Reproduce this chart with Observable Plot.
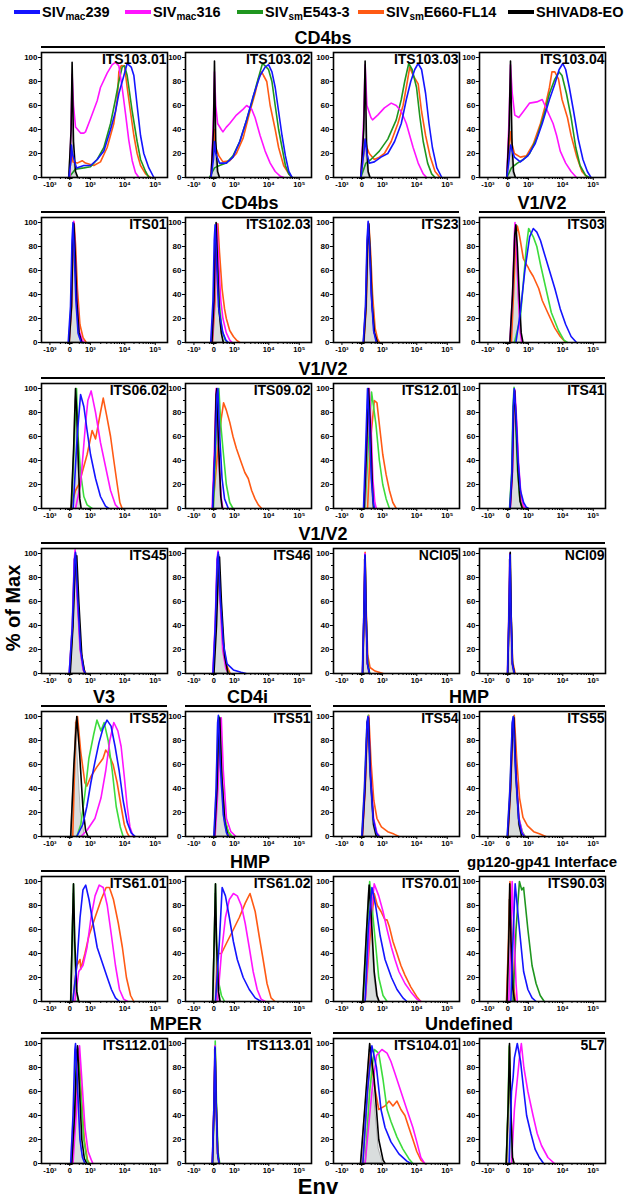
<!DOCTYPE html>
<html><head><meta charset="utf-8">
<script src="https://cdn.jsdelivr.net/npm/d3@7"></script>
<script src="https://cdn.jsdelivr.net/npm/@observablehq/plot@0.6"></script>
<style>
body{margin:0;background:#fff;font-family:"Liberation Sans",Arial,sans-serif;color:#000}
#root{position:relative;width:632px;height:1199px;overflow:hidden}
.abs{position:absolute}
.leg{position:absolute;top:3px;font-weight:bold;font-size:14.5px;white-space:nowrap;line-height:18px}
.leg sub{font-size:10px;vertical-align:-3px;line-height:0}
.sw{position:absolute;top:10px;width:26px;height:4px}
.hdr{position:absolute;font-weight:bold;font-size:18px;white-space:nowrap;transform:translate(-50%,-50%);line-height:18px}
.rule{position:absolute;height:2px;background:#000}
</style></head>
<body><div id="root"></div>
<script>
// ---------- series / legend ----------
const seriesKeys   = ["mac239","mac316","e543","e660","ad8"];
const seriesColors = ["#1414ff","#ff14ff","#23a023","#ff5a14","#000000"];
const legendMain = ["SIV","SIV","SIV","SIV","SHIVAD8-EO"];
const legendSub  = ["mac","mac","sm","sm",""];
const legendTail = ["239","316","E543-3","E660-FL14",""];
const drawOrder = ["e660","e543","mac316","ad8","mac239"];
// the E543-3 trace is printed dark green in some panels and lime green in others
const greenDark = "#1f961f", greenLime = "#3cdc3c";
const darkGreenPanels = ["ITS103.01","ITS103.02","ITS103.03","ITS103.04","ITS90.03"];

// ---------- axes (x in display channels 0..1000 of a logicle axis) ----------
const xTickPos    = [67, 224, 388, 661, 903];
const xTickLabels = ["-10³","0","10³","10⁴","10⁵"];
const xMinorTicks = [150,190,205,210,215,220,228,232,238,243,300,330,350,362,372,380,470,518,552,579,600,619,635,648,734,776,807,830,849,866,879,892];
const yTicks = [0,20,40,60,80,100];
const yMinorTicks = [10,30,50,70,90];

// ---------- panels ----------
const panelTitles = ["ITS103.01","ITS103.02","ITS103.03","ITS103.04",
  "ITS01","ITS102.03","ITS23","ITS03",
  "ITS06.02","ITS09.02","ITS12.01","ITS41",
  "ITS45","ITS46","NCI05","NCI09",
  "ITS52","ITS51","ITS54","ITS55",
  "ITS61.01","ITS61.02","ITS70.01","ITS90.03",
  "ITS112.01","ITS113.01","ITS104.01","5L7"];

const groupRows = [
  [["CD4bs",0,3]],
  [["CD4bs",0,2],["V1/V2",3,3]],
  [["V1/V2",0,3]],
  [["V1/V2",0,3]],
  [["V3",0,0],["CD4i",1,1],["HMP",2,3]],
  [["HMP",0,2],["gp120-gp41 Interface",3,3]],
  [["MPER",0,1],["Undefined",2,3]]
];

// each curve: flat [x, %max, x, %max, ...]
const ITS103_01 = {
  mock:[217,0,235,30,243,70,254,20,270,3,288,0],
  ad8:[217,0,235,40,243,96,254,30,270,5,288,0],
  mac316:[225,0,238,60,243,86,254,60,270,42,310,37,336,37,349,38,389,49,442,64,468,75,521,87,561,94,587,96,614,93,640,75,667,53,693,31,720,14,746,4,773,0],
  e660:[217,0,235,15,240,20,250,13,283,12,323,14,349,12,415,10,468,13,521,25,574,45,601,65,614,88,632,93,659,93,680,75,706,55,733,35,759,20,786,10,826,3,865,0],
  e543:[217,0,270,7,336,8,389,9,442,15,495,25,548,45,587,65,614,80,640,92,659,93,680,85,720,55,759,30,786,15,826,5,852,0],
  mac239:[217,0,235,15,238,27,245,20,278,8,336,10,389,10,442,15,495,22,548,40,587,55,614,70,654,85,680,95,712,92,733,85,759,60,786,35,812,20,852,8,892,0]
};
const ITS103_02 = {
  mock:[203,0,222,30,230,70,240,20,255,3,270,0],
  ad8:[203,0,222,40,230,97,240,30,255,5,270,0],
  mac316:[203,0,222,50,230,88,240,60,255,45,284,40,297,38,324,42,351,45,404,52,458,57,485,60,525,57,552,50,592,35,632,22,672,12,712,5,753,1,779,0],
  e660:[203,0,222,25,230,40,240,25,265,18,297,13,351,14,404,20,458,33,511,55,552,70,578,82,605,88,619,85,645,80,672,60,712,40,739,25,779,10,820,3,846,0],
  e543:[190,0,230,8,270,10,324,12,377,18,431,30,485,48,525,62,565,78,592,88,611,95,632,93,659,90,686,80,712,60,739,40,766,25,793,10,820,3,846,0],
  mac239:[203,0,222,15,230,30,240,20,270,12,324,12,377,17,431,30,485,48,538,68,592,85,632,92,659,94,686,88,712,75,739,55,766,35,793,18,820,5,846,0]
};
const ITS103_03 = {
  mock:[217,0,240,30,251,70,262,20,275,3,290,0],
  ad8:[217,0,240,40,251,97,262,30,275,5,290,0],
  mac316:[217,0,240,50,251,94,265,60,297,50,310,48,351,52,404,58,458,62,498,60,538,55,578,45,605,35,632,25,672,12,712,3,739,0],
  e660:[217,0,240,20,251,32,265,25,284,20,324,15,364,17,404,20,458,30,511,45,552,60,586,80,605,92,632,85,672,78,699,55,731,35,766,18,806,5,846,0],
  e543:[217,0,257,12,297,15,364,22,431,32,498,48,538,65,565,80,597,95,624,90,659,75,686,50,712,30,747,12,779,3,806,0],
  mac239:[217,0,240,20,251,32,265,20,284,12,324,13,377,17,431,20,485,30,538,45,578,65,613,80,645,90,672,95,699,90,731,70,758,45,785,25,820,8,860,0]
};
const ITS103_04 = {
  mock:[217,0,235,30,246,70,258,20,270,3,285,0],
  ad8:[217,0,235,40,246,97,258,30,270,5,285,0],
  mac316:[217,0,235,50,246,94,260,70,280,52,312,50,348,55,398,62,455,63,498,65,541,55,584,45,612,35,641,22,684,12,727,5,770,0],
  e660:[217,0,235,25,246,38,258,28,277,20,324,17,372,18,427,28,484,45,527,62,555,75,575,88,598,88,627,82,655,65,698,50,727,35,770,18,813,5,856,0],
  e543:[217,0,253,8,301,12,348,15,398,20,455,33,512,52,555,70,598,82,632,88,655,85,690,70,727,50,764,25,798,10,841,2,870,0],
  mac239:[217,0,235,15,246,27,260,22,277,17,324,13,384,18,441,28,498,45,555,65,598,78,632,90,661,95,684,90,713,75,747,55,784,32,821,15,856,5,885,0]
};
const ITS01 = {
  mock:[217,0,235,25,246,75,256,95,266,70,280,30,296,5,320,0],
  ad8:[220,0,238,30,248,80,257,99,267,75,280,35,298,8,320,0],
  mac239:[212,0,230,30,242,85,250,100,260,75,273,35,290,8,315,0],
  mac316:[218,0,236,30,247,80,256,101,266,80,280,40,298,10,323,2,340,0],
  e543:[216,0,234,30,245,80,254,98,264,78,278,38,296,9,320,1,335,0],
  e660:[220,0,240,30,250,80,259,100,270,82,285,45,305,15,330,4,355,0]
};
const ITS102_03 = {
  mock:[205,0,222,30,235,80,243,97,255,65,270,25,290,5,310,0],
  mac239:[200,0,218,35,228,85,235,98,248,65,262,30,276,20,297,8,320,2,340,0],
  ad8:[210,0,226,35,236,85,243,100,254,65,268,25,284,8,300,0],
  mac316:[212,0,230,35,242,88,249,99,262,70,280,35,297,20,324,8,351,2,370,0],
  e543:[210,0,228,35,238,85,246,98,258,65,272,30,290,10,315,2,335,0],
  e660:[215,0,235,35,248,88,257,99,270,75,290,45,310,28,324,20,351,10,380,5,404,2,430,0]
};
const ITS23 = {
  mock:[238,0,255,30,268,80,278,98,290,75,305,35,325,8,350,0],
  ad8:[240,0,258,30,270,80,280,99,292,72,306,32,325,8,350,0],
  mac239:[236,0,254,30,266,85,275,101,286,80,300,40,318,10,340,0],
  mac316:[238,0,256,30,268,82,277,100,289,76,303,36,322,9,345,0],
  e543:[238,0,256,30,268,82,278,99,290,75,304,36,323,9,345,0],
  e660:[242,0,260,30,272,80,282,97,295,75,310,40,330,12,350,3,365,0]
};
const ITS03 = {
  mock:[245,0,265,35,280,85,289,95,300,65,315,25,331,5,345,0],
  ad8:[241,0,262,40,280,90,289,98,300,80,315,40,331,8,345,0],
  mac316:[241,0,262,40,277,90,282,100,292,80,310,35,324,8,336,0],
  e660:[253,0,270,40,290,90,301,97,312,92,324,85,348,70,372,65,384,63,398,60,427,55,470,45,498,35,541,25,598,12,641,5,684,0],
  e543:[277,0,300,10,324,20,348,50,372,80,390,95,427,88,455,80,484,65,527,45,570,25,627,10,670,2,698,0],
  mac239:[289,0,324,25,360,60,398,88,427,95,455,92,484,85,512,75,555,60,598,45,641,28,684,15,727,5,770,0]
};
const ITS06_02 = {
  mock:[235,0,255,40,268,90,275,95,290,50,304,8,315,0],
  ad8:[235,0,255,50,270,100,280,80,292,40,304,8,315,0],
  e543:[238,0,258,50,278,100,290,60,310,30,336,10,362,3,402,0],
  mac239:[251,0,283,60,310,95,336,85,362,65,389,45,429,25,468,10,508,2,534,0],
  mac316:[270,0,310,20,349,70,368,90,394,98,429,80,468,55,508,35,548,15,587,3,614,0],
  e660:[230,0,270,15,296,20,323,30,362,45,402,65,429,58,468,80,490,92,516,78,548,60,574,40,601,20,622,5,640,0]
};
const ITS09_02 = {
  mock:[217,0,232,40,243,90,249,97,262,50,280,10,292,0],
  ad8:[217,0,232,45,243,95,249,100,262,55,280,10,292,0],
  mac316:[211,0,228,45,243,100,255,70,270,30,285,8,297,0],
  mac239:[215,0,235,50,250,95,257,100,272,60,290,25,310,8,340,0],
  e543:[222,0,240,50,255,95,265,100,280,70,297,50,324,20,351,5,377,0],
  e660:[217,0,257,50,284,75,302,88,324,82,351,72,377,60,404,50,444,38,471,30,498,25,525,15,552,8,578,3,605,0]
};
const ITS12_01 = {
  mock:[243,0,260,40,272,90,278,96,292,60,310,10,320,0],
  ad8:[243,0,262,50,278,100,292,70,308,20,318,0],
  mac239:[238,0,255,50,270,100,285,70,300,25,315,5,325,0],
  mac316:[245,0,265,50,284,100,298,70,312,25,328,5,340,0],
  e543:[250,0,275,50,302,97,337,70,364,40,391,20,418,8,444,0],
  e660:[270,0,297,60,324,90,345,88,364,70,391,45,418,28,444,15,471,5,498,0]
};
const ITS41 = {
  mock:[241,0,258,30,270,85,277,97,290,70,305,30,322,6,340,0],
  ad8:[243,0,260,30,271,85,279,98,291,70,306,30,322,6,340,0],
  mac239:[240,0,257,30,268,85,276,100,290,78,306,40,325,15,350,5,372,1,390,0],
  mac316:[245,0,262,30,273,85,281,99,294,75,310,38,330,10,350,2,365,0],
  e543:[238,0,255,30,266,85,274,101,287,72,302,32,320,8,340,0],
  e660:[243,0,260,30,272,85,279,98,292,72,308,35,328,10,350,0]
};
const ITS45 = {
  mock:[222,0,245,40,262,95,272,97,290,60,315,15,340,0],
  ad8:[228,0,250,40,268,90,280,98,296,60,320,15,344,0],
  mac239:[220,0,245,40,262,95,270,101,286,65,310,20,335,3,350,0],
  mac316:[220,0,245,40,260,95,267,103,282,65,306,20,330,3,345,0],
  e543:[222,0,246,40,262,95,270,100,285,65,308,20,332,3,348,0],
  e660:[224,0,248,40,264,95,272,99,288,62,312,20,336,4,352,0]
};
const ITS46 = {
  mock:[222,0,240,40,255,95,265,97,280,60,305,15,337,0],
  ad8:[226,0,246,40,262,90,270,97,285,60,310,15,337,0],
  mac239:[218,0,236,40,252,95,260,101,275,65,300,25,330,8,380,3,440,1,480,0],
  mac316:[216,0,235,40,250,95,258,102,272,65,295,20,320,4,340,0],
  e543:[220,0,238,40,253,95,261,99,276,62,300,20,325,4,345,0],
  e660:[222,0,240,40,255,95,263,99,278,62,302,22,330,6,355,0]
};
const NCI05 = {
  mock:[228,0,240,40,248,95,256,60,268,10,280,0],
  mac316:[230,0,241,50,249,100,257,50,268,8,285,0],
  e660:[232,0,243,50,251,101,259,55,272,15,290,5,330,2,393,0],
  mac239:[230,0,241,50,250,99,258,50,270,8,285,0],
  e543:[231,0,242,50,250,99,258,50,270,10,288,0],
  ad8:[231,0,242,50,251,98,259,50,270,8,286,0]
};
const NCI09 = {
  mock:[222,0,232,40,240,95,248,60,258,10,270,0],
  mac316:[222,0,233,50,241,100,249,50,260,8,275,0],
  ad8:[224,0,235,50,244,101,251,50,262,8,278,0],
  mac239:[223,0,234,50,242,99,250,50,261,8,276,0],
  e543:[223,0,234,50,242,99,250,50,261,8,276,0],
  e660:[224,0,235,50,243,99,251,50,263,10,283,0]
};
const ITS52 = {
  mock:[232,0,257,50,273,95,290,60,312,20,344,0],
  ad8:[232,0,257,60,280,100,302,70,328,25,350,5,369,0],
  e660:[248,0,273,95,286,100,312,70,344,45,360,42,392,50,440,58,488,65,510,72,536,68,568,60,600,45,632,25,657,10,680,3,696,0],
  e543:[280,0,312,10,344,35,376,65,414,85,440,97,472,88,497,95,529,80,561,55,593,25,625,8,648,0],
  mac239:[280,0,328,10,360,25,392,45,424,62,456,78,488,90,520,97,552,92,584,75,616,55,648,30,680,12,712,3,744,0],
  mac316:[312,0,360,5,424,15,472,32,510,55,542,80,574,95,606,88,632,75,657,50,680,25,702,8,728,0]
};
const ITS51 = {
  mock:[228,0,245,40,258,95,268,90,285,45,310,10,337,0],
  ad8:[230,0,250,40,263,95,272,99,288,50,312,12,337,0],
  mac239:[225,0,243,40,255,95,261,101,276,60,300,18,325,3,345,0],
  e543:[228,0,248,40,262,95,268,100,284,55,310,15,340,4,370,0],
  e660:[228,0,248,40,262,95,270,99,286,55,312,15,340,3,360,0],
  mac316:[235,0,258,40,276,95,284,99,300,55,325,15,360,4,400,0]
};
const ITS54 = {
  mock:[225,0,245,40,265,90,276,97,292,50,315,10,340,0],
  ad8:[228,0,250,40,268,95,278,99,294,50,318,10,340,0],
  mac239:[225,0,246,40,266,95,274,100,290,55,314,15,340,3,360,0],
  e543:[226,0,248,40,267,95,276,101,292,55,316,15,342,3,365,0],
  mac316:[228,0,250,40,268,95,278,100,294,55,318,15,345,3,368,0],
  e660:[230,0,252,40,270,95,280,101,298,62,320,30,345,15,380,8,430,4,480,2,519,0]
};
const ITS55 = {
  mock:[222,0,242,40,262,92,271,97,288,50,312,10,335,0],
  ad8:[224,0,246,40,264,95,273,99,290,50,314,10,335,0],
  mac239:[220,0,242,40,260,95,268,100,286,55,310,15,335,3,355,0],
  e543:[222,0,244,40,262,95,271,100,289,55,313,15,340,4,362,0],
  mac316:[223,0,245,40,263,95,272,99,290,55,314,15,340,3,360,0],
  e660:[226,0,248,40,267,95,276,101,295,65,318,32,345,16,380,9,430,4,480,2,526,0]
};
const ITS61_01 = {
  mock:[232,0,245,50,254,90,262,50,280,8,296,0],
  ad8:[232,0,245,60,254,98,264,50,280,8,296,0],
  e543:[232,0,245,60,254,98,262,50,278,10,290,0],
  mac239:[248,0,280,30,306,70,329,93,351,97,377,85,409,65,442,45,490,30,522,20,555,10,587,3,619,0],
  mac316:[264,0,296,25,329,30,361,45,393,70,425,88,458,97,490,95,522,80,555,55,587,30,619,10,652,2,684,0],
  e660:[248,0,280,30,306,35,312,27,345,40,377,55,425,70,474,85,513,95,539,95,571,85,610,65,642,45,674,20,707,5,732,0]
};
const ITS61_02 = {
  mock:[216,0,230,50,238,90,246,50,262,8,275,0],
  ad8:[216,0,230,60,238,98,246,50,262,8,275,0],
  e543:[216,0,230,60,238,98,245,55,254,30,265,15,285,5,310,0],
  mac239:[238,0,269,50,291,95,317,88,348,70,380,50,411,35,458,20,506,10,553,3,600,0],
  mac316:[254,0,285,40,317,70,348,85,380,90,411,88,443,80,474,65,506,45,537,25,569,10,600,2,632,0],
  e660:[238,0,254,40,285,40,332,50,380,60,427,70,474,82,512,90,553,75,584,55,616,35,647,15,679,3,710,0]
};
const ITS70_01 = {
  mock:[233,0,260,50,280,92,287,95,305,60,325,20,345,3,360,0],
  ad8:[233,0,260,55,283,97,300,70,323,25,345,5,362,0],
  e543:[233,0,269,60,287,100,323,60,359,20,393,5,425,0],
  mac239:[251,0,276,60,305,95,334,80,370,55,409,35,460,20,504,10,551,3,582,0],
  mac316:[251,0,287,60,323,98,359,88,393,75,425,60,460,45,488,35,519,25,567,15,614,8,661,2,693,0],
  e660:[251,0,287,50,323,90,348,80,377,75,409,68,425,68,444,62,472,50,504,40,535,30,567,22,614,12,661,4,693,0]
};
const ITS90_03 = {
  mock:[215,0,228,40,238,85,248,50,262,8,275,0],
  e660:[215,0,230,50,242,100,255,60,270,15,285,0],
  ad8:[218,0,232,50,240,98,250,50,265,10,280,0],
  mac316:[232,0,248,50,259,100,275,55,290,15,300,0],
  mac239:[249,0,265,50,283,98,317,60,350,25,384,10,417,3,449,0],
  e543:[266,0,278,30,290,60,317,100,335,93,350,95,384,60,417,30,449,15,482,5,514,0]
};
const ITS112_01 = {
  mock:[232,0,255,40,272,90,282,95,298,50,320,10,340,0],
  mac239:[232,0,250,40,265,95,270,100,285,65,305,20,325,5,345,0],
  ad8:[240,0,262,40,280,92,286,98,300,65,320,20,340,4,360,0],
  e543:[240,0,262,40,282,92,290,96,310,60,335,20,360,3,375,0],
  e660:[245,0,268,40,288,92,296,95,315,60,340,20,365,3,380,0],
  mac316:[250,0,275,40,295,90,302,98,320,70,345,30,370,10,395,3,408,0]
};
const ITS113_01 = {
  mock:[213,0,225,40,233,95,242,50,255,8,265,0],
  mac239:[213,0,226,50,234,97,243,50,255,8,266,0],
  ad8:[214,0,227,50,235,96,244,50,256,8,267,0],
  e660:[214,0,227,50,235,97,244,50,256,8,268,0],
  e543:[215,0,228,50,236,102,246,50,258,10,272,0],
  mac316:[213,0,226,50,234,98,243,50,255,8,268,0]
};
const ITS104_01 = {
  mock:[215,0,251,45,287,95,323,55,359,12,393,0],
  e660:[233,0,270,60,292,92,320,68,359,45,409,48,441,52,472,48,504,52,535,45,567,40,598,30,630,20,661,10,693,3,724,0],
  ad8:[215,0,251,50,287,100,323,70,359,20,393,3,409,0],
  mac239:[233,0,269,60,305,98,341,80,377,45,409,30,456,18,519,8,582,2,614,0],
  e543:[251,0,287,60,323,95,359,92,393,70,425,45,456,35,504,22,551,12,598,4,630,0],
  mac316:[251,0,305,60,341,90,384,95,425,92,456,85,488,75,535,60,582,45,630,30,661,18,693,5,724,0]
};
const mAb5L7 = {
  mock:[212,0,228,40,238,70,248,40,262,5,275,0],
  e660:[214,0,229,50,238,97,247,50,260,5,272,0],
  ad8:[212,0,228,50,238,100,248,50,262,5,275,0],
  e543:[212,0,227,50,236,98,246,50,258,5,270,0],
  mac239:[235,0,254,60,267,72,277,88,300,100,326,85,352,60,374,40,408,25,441,12,475,5,509,0],
  mac316:[254,0,277,45,300,70,319,90,332,100,352,80,384,60,425,40,458,25,492,15,543,5,595,0]
};

const panelData = [ITS103_01,ITS103_02,ITS103_03,ITS103_04,
  ITS01,ITS102_03,ITS23,ITS03,
  ITS06_02,ITS09_02,ITS12_01,ITS41,
  ITS45,ITS46,NCI05,NCI09,
  ITS52,ITS51,ITS54,ITS55,
  ITS61_01,ITS61_02,ITS70_01,ITS90_03,
  ITS112_01,ITS113_01,ITS104_01,mAb5L7];

// ---------- layout ----------
const FONT = '"Liberation Sans", Arial, sans-serif';
const rowZeroY = [177, 342, 508, 672.5, 836, 1000.5, 1163];
const colLeft = [41, 184.5, 333, 479];
const FW = 126, FH = 125, YMAX = 125 / 1.2;
const ML = 22, MR = 3, MT = 2, MB = 18;

const root = document.getElementById("root");
function el(tag, cls, css, html) {
  const e = document.createElement(tag);
  if (cls) e.className = cls;
  Object.assign(e.style, css || {});
  if (html != null) e.innerHTML = html;
  root.appendChild(e);
  return e;
}

// legend
const legLeft = [14, 125, 237, 358, 508];
seriesKeys.forEach((k, i) => {
  el("div", "sw", {left: legLeft[i] + "px", background: i === 2 ? greenDark : seriesColors[i]});
  const sub = legendSub[i] ? `<sub>${legendSub[i]}</sub>` : "";
  el("div", "leg", {left: (legLeft[i] + 28) + "px"}, `${legendMain[i]}${sub}${legendTail[i]}`);
});

// group headers
groupRows.forEach((groups, r) => {
  const frameTop = rowZeroY[r] - FH;
  const lineY = frameTop - 5;
  groups.forEach(([label, c0, c1]) => {
    const x0 = colLeft[c0], x1 = colLeft[c1] + FW;
    el("div", "rule", {left: x0 + "px", width: (x1 - x0) + "px", top: (lineY - 1) + "px"});
    const h = el("div", "hdr", {left: ((x0 + x1) / 2) + "px", top: (lineY - 9) + "px"}, label);
    if (label.length > 12) h.style.fontSize = "15px";
  });
});

// axis titles
el("div", "abs", {left: "13px", top: "608px", transform: "translate(-50%,-50%) rotate(-90deg)",
  fontWeight: "bold", fontSize: "20px", whiteSpace: "nowrap"}, "% of Max");
el("div", "abs", {left: "318px", top: "1187px", transform: "translate(-50%,-50%)",
  fontWeight: "bold", fontSize: "22px"}, "Env");

// panels
const xLabel = new Map(xTickPos.map((p, i) => [p, xTickLabels[i]]));
function pairs(arr, s) {
  const out = [];
  for (let i = 0; i < arr.length; i += 2) out.push({x: arr[i], y: arr[i + 1], s});
  return out;
}
panelData.forEach((d, idx) => {
  const r = Math.floor(idx / 4), c = idx % 4;
  const title = panelTitles[idx];
  const colors = seriesColors.slice();
  colors[2] = darkGreenPanels.includes(title) ? greenDark : greenLime;
  const mock = pairs(d.mock, "mock");
  const lines = drawOrder.flatMap(k => d[k] ? pairs(d[k], k) : []);
  const svg = Plot.plot({
    width: FW + ML + MR, height: FH + MT + MB,
    marginLeft: ML, marginRight: MR, marginTop: MT, marginBottom: MB,
    style: {fontFamily: FONT, background: "transparent", color: "#000", overflow: "visible"},
    x: {domain: [0, 1000]},
    y: {domain: [0, YMAX]},
    color: {domain: seriesKeys, range: colors},
    marks: [
      Plot.areaY(mock, {x: "x", y: "y", fill: "#d9dddd", stroke: "#8a8a8a", strokeWidth: 0.6}),
      Plot.line(lines, {x: "x", y: "y", z: "s", stroke: "s", strokeWidth: 1.6}),
      Plot.axisY(yTicks, {tickSize: 3, tickPadding: 1, fontSize: 8, fontWeight: "bold", label: null}),
      Plot.axisY(yMinorTicks, {tickSize: 2, tickFormat: () => "", label: null}),
      Plot.axisX(xTickPos, {tickSize: 3, tickPadding: 1, fontSize: 7.5, fontWeight: "bold", tickFormat: v => xLabel.get(v), label: null}),
      Plot.axisX(xMinorTicks, {tickSize: 2, tickFormat: () => "", label: null}),
      Plot.frame({stroke: "#000", strokeWidth: 1.6}),
      Plot.text([title], {frameAnchor: "top-right", textAnchor: "end", lineAnchor: "top",
        dx: -1, dy: 2, fontSize: 14, fontWeight: "bold", fill: "#000", text: t => t})
    ]
  });
  svg.style.position = "absolute";
  svg.style.left = (colLeft[c] - ML) + "px";
  svg.style.top = (rowZeroY[r] - FH - MT) + "px";
  root.appendChild(svg);
});
</script></body></html>
